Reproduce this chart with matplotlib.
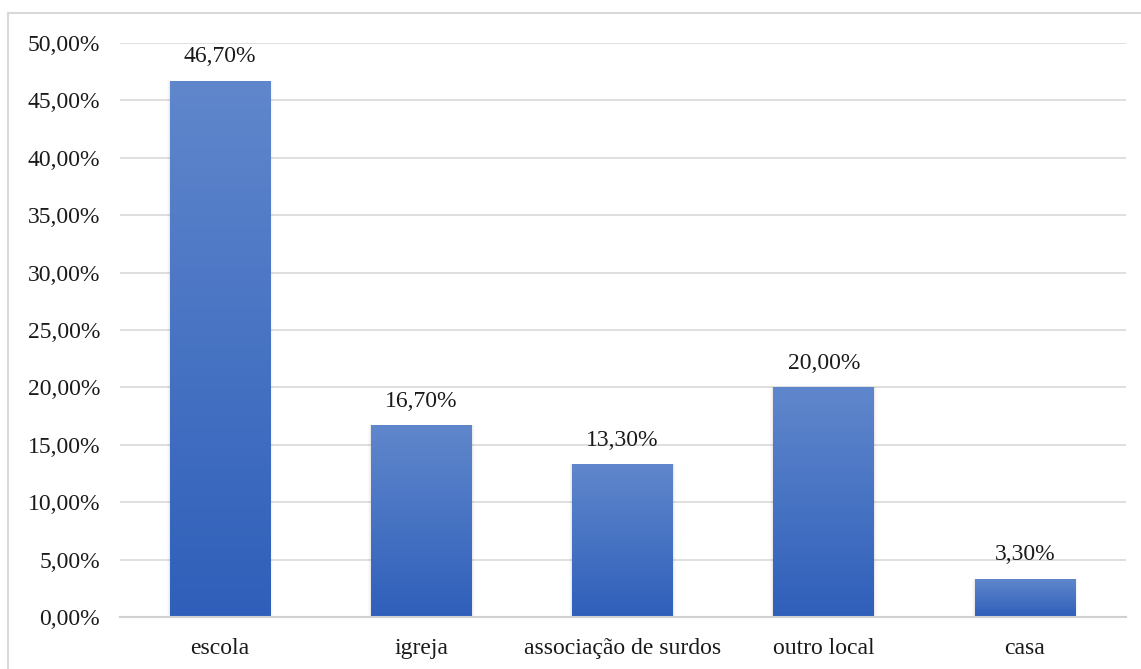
import numpy as np
import matplotlib
matplotlib.use("Agg")
import matplotlib.pyplot as plt
from matplotlib.colors import LinearSegmentedColormap
from matplotlib.patches import Rectangle
from matplotlib.ticker import FuncFormatter, MultipleLocator

categories = ["escola", "igreja", "associação de surdos", "outro local", "casa"]
values = [46.70, 16.70, 13.30, 20.00, 3.30]
value_labels = ["46,70%", "16,70%", "13,30%", "20,00%", "3,30%"]

plt.rcParams["font.family"] = ["Liberation Serif", "DejaVu Serif"]

W, H = 1141, 669
fig = plt.figure(figsize=(W / 100, H / 100), dpi=100)
fig.patch.set_facecolor("white")

# light outer frame (left and top edges)
fig.add_artist(plt.Line2D([8 / W, 8 / W], [0, 1 - 13 / H], transform=fig.transFigure,
                          color="#D9D9D9", lw=1.5))
fig.add_artist(plt.Line2D([8 / W, 1.0], [1 - 13 / H, 1 - 13 / H], transform=fig.transFigure,
                          color="#D9D9D9", lw=1.5))

left, right = 119.5 / W, 1125.5 / W
bottom, top = 1 - 617 / H, 1 - 43 / H
ax = fig.add_axes([left, bottom, right - left, top - bottom])

x = np.arange(len(categories))
ax.set_xlim(-0.5, len(categories) - 0.5)
ax.set_ylim(0, 50)

cmap = LinearSegmentedColormap.from_list("bar", ["#2F5FBA", "#6087CC"])
grad = np.linspace(0, 1, 256).reshape(-1, 1)
bw = 0.5

for xi, v, lab in zip(x, values, value_labels):
    # soft shadow
    for k, a in enumerate([0.04, 0.025, 0.015]):
        d = 0.005 * (k + 1)
        ax.add_patch(Rectangle((xi - bw / 2 - d, 0), bw + 2 * d, v,
                               facecolor="black", alpha=a, edgecolor="none", zorder=2))
    rect = Rectangle((xi - bw / 2, 0), bw, v, facecolor="none", edgecolor="none", zorder=3)
    ax.add_patch(rect)
    im = ax.imshow(grad, cmap=cmap, aspect="auto", origin="lower",
                   extent=(xi - bw / 2, xi + bw / 2, 0, v), zorder=3)
    im.set_clip_path(rect)
    ax.text(xi, v + 1.2, lab, ha="center", va="bottom", fontsize=17, color="#1a1a1a")

ax.yaxis.set_major_locator(MultipleLocator(5))
ax.yaxis.set_major_formatter(FuncFormatter(lambda y, _: f"{y:.2f}%".replace(".", ",")))
ax.set_xticks(x)
ax.set_xticklabels(categories)
ax.tick_params(axis="both", length=0, labelsize=17, colors="#1a1a1a")
ax.tick_params(axis="x", pad=15)
ax.tick_params(axis="y", pad=14)

ax.grid(axis="y", color="#D9D9D9", lw=1.2)
ax.set_axisbelow(True)
for s in ["top", "right", "left"]:
    ax.spines[s].set_visible(False)
ax.spines["bottom"].set_color("#D0D0D0")
ax.spines["bottom"].set_linewidth(1.5)
ax.spines["bottom"].set_zorder(4)

fig.savefig("out.png", dpi=100)
